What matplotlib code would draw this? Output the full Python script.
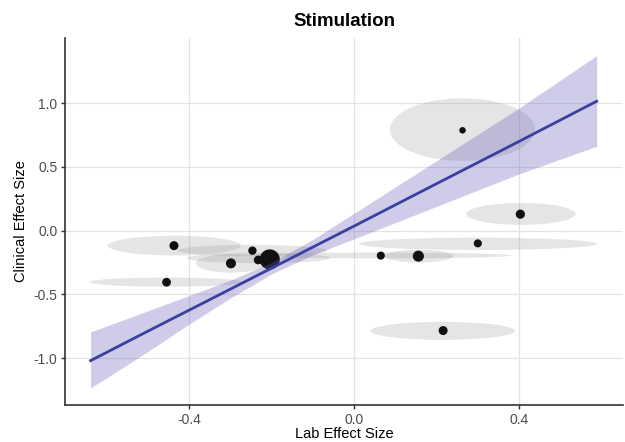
import matplotlib
matplotlib.use("Agg")
import matplotlib.pyplot as plt
from matplotlib.patches import Ellipse

plt.rcParams['font.family'] = ['Liberation Sans', 'DejaVu Sans']

# study estimates (lab vs clinical effect size) and their interval bounds
lab_es = [-0.436, -0.454, -0.246, -0.298, -0.232, -0.204, 0.065, 0.156, 0.300, 0.403, 0.263, 0.216]
clin_es = [-0.118, -0.405, -0.157, -0.257, -0.230, -0.226, -0.196, -0.200, -0.100, 0.129, 0.787, -0.784]
lab_lo = [-0.596, -0.640, -0.427, -0.383, -0.405, -0.230, -0.252, 0.075, 0.012, 0.272, 0.087, 0.040]
lab_hi = [-0.274, -0.268, -0.065, -0.213, -0.058, -0.180, 0.383, 0.240, 0.589, 0.537, 0.439, 0.390]
clin_lo = [-0.195, -0.440, -0.200, -0.330, -0.255, -0.250, -0.218, -0.250, -0.152, 0.045, 0.547, -0.857]
clin_hi = [-0.040, -0.368, -0.112, -0.185, -0.175, -0.205, -0.172, -0.150, -0.055, 0.217, 1.038, -0.716]
point_size = [42, 40, 36, 52, 40, 210, 34, 64, 34, 44, 22, 42]

# regression fit and its confidence band
band_x = [-0.638, -0.5, -0.4, -0.3, -0.2, -0.1, 0.0, 0.2, 0.4, 0.588]
band_fit = [-1.020, -0.790, -0.625, -0.460, -0.295, -0.130, 0.035, 0.368, 0.700, 1.015]
band_lo = [-1.235, -0.950, -0.735, -0.530, -0.340, -0.190, -0.065, 0.190, 0.445, 0.662]
band_hi = [-0.795, -0.630, -0.510, -0.390, -0.250, -0.070, 0.135, 0.548, 0.962, 1.373]

fig = plt.figure(figsize=(6.25, 4.42), dpi=100)
ax = fig.add_axes([0.104, 0.084, 0.893, 0.830])

for i in range(len(lab_es)):
    e = Ellipse(((lab_lo[i] + lab_hi[i]) / 2, (clin_lo[i] + clin_hi[i]) / 2),
                width=lab_hi[i] - lab_lo[i], height=clin_hi[i] - clin_lo[i],
                facecolor='#999999', edgecolor='none', alpha=0.25, zorder=1)
    ax.add_patch(e)

ax.scatter(lab_es, clin_es, s=point_size, color='#111111', linewidths=0, zorder=3)

ax.fill_between(band_x, band_lo, band_hi, color='#5e58b8', alpha=0.3, linewidth=0, zorder=4)
ax.plot(band_x, band_fit, color='#3b3f9e', linewidth=2, zorder=5)

ax.set_xlim(-0.70, 0.652)
ax.set_ylim(-1.367, 1.511)
ax.set_xticks([-0.4, 0.0, 0.4])
ax.set_yticks([-1.0, -0.5, 0.0, 0.5, 1.0])
ax.set_xticklabels(['-0.4', '0.0', '0.4'])
ax.set_yticklabels(['-1.0', '-0.5', '0.0', '0.5', '1.0'])

ax.grid(True, color='#e3e3e3', linewidth=0.9, zorder=0)
ax.set_axisbelow(True)
for side in ['top', 'right']:
    ax.spines[side].set_visible(False)
for side in ['left', 'bottom']:
    ax.spines[side].set_color('#333333')
    ax.spines[side].set_linewidth(1.2)
ax.tick_params(colors='#333333', labelcolor='#4d4d4d', labelsize=10, length=3, width=1, pad=2.5)

ax.set_xlabel('Lab Effect Size', fontsize=10.5, labelpad=0)
ax.set_ylabel('Clinical Effect Size', fontsize=10.5, labelpad=4)
ax.set_title('Stimulation', fontsize=13.5, fontweight='bold', pad=9)

fig.savefig('out.png', dpi=100)
